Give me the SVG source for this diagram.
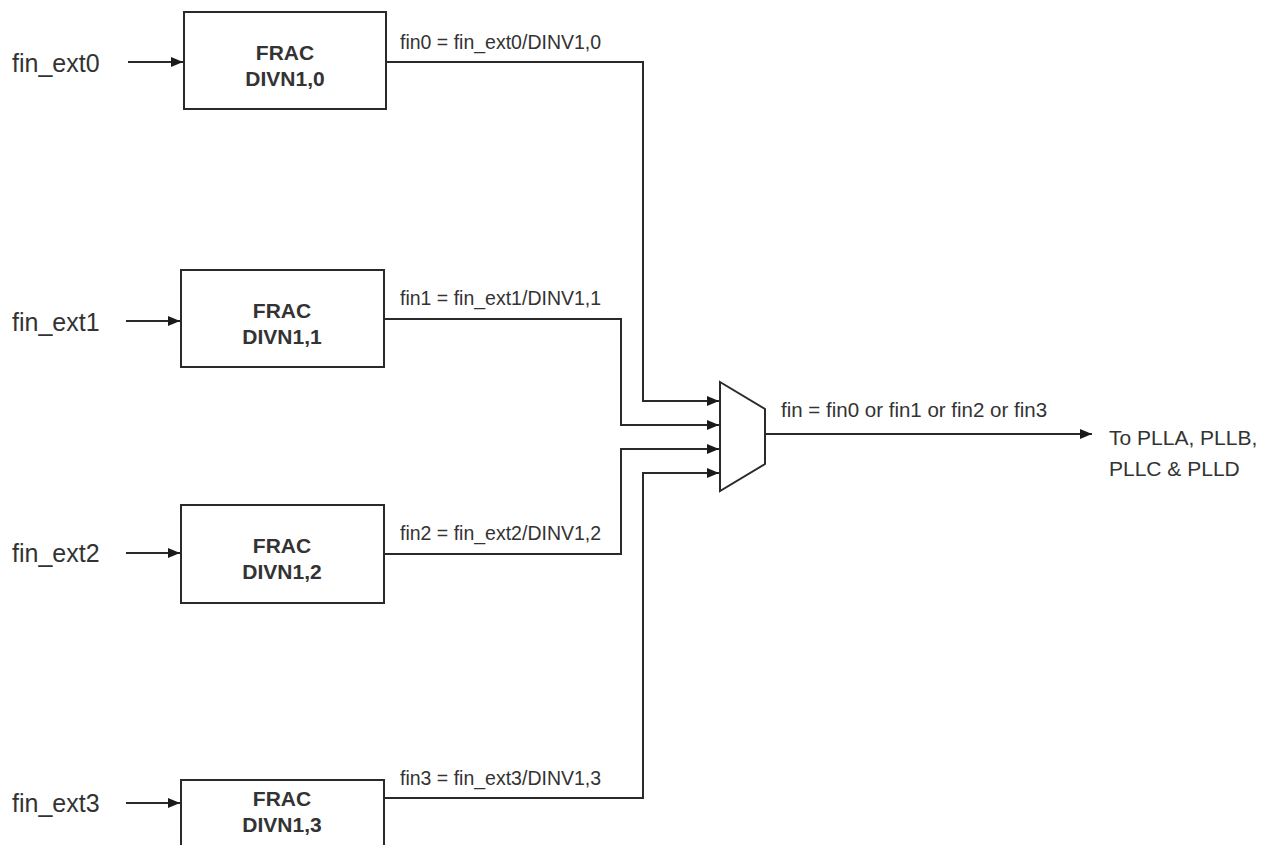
<svg xmlns="http://www.w3.org/2000/svg" width="1270" height="845" viewBox="0 0 1270 845">
<style>
.box{fill:#fff;stroke:#2a2a2a;stroke-width:2}
.bt{font-family:"Liberation Sans",Arial,sans-serif;font-size:21px;font-weight:bold;fill:#333;text-anchor:middle}
.in{font-family:"Liberation Sans",Arial,sans-serif;font-size:25px;fill:#333}
.lb{font-family:"Liberation Sans",Arial,sans-serif;font-size:19.5px;fill:#333}
.ol{font-family:"Liberation Sans",Arial,sans-serif;font-size:21px;fill:#333}
.w{fill:none;stroke:#2a2a2a;stroke-width:2}
</style>
<defs>
<marker id="ah" markerWidth="12" markerHeight="10" refX="12" refY="5" orient="auto" markerUnits="userSpaceOnUse">
<path d="M0,0 L12,5 L0,10 z" fill="#1a1a1a"/>
</marker>
</defs>
<rect width="1270" height="845" fill="#fff"/>
<g id="inputs">
<text class="in" x="12" y="72">fin_ext0</text>
<text class="in" x="12" y="331">fin_ext1</text>
<text class="in" x="12" y="562">fin_ext2</text>
<text class="in" x="12" y="812">fin_ext3</text>
</g>
<g id="div0"><rect class="box" x="184" y="12" width="202" height="97"/><text class="bt" x="285" y="60">FRAC</text><text class="bt" x="285" y="86">DIVN1,0</text></g>
<g id="div1"><rect class="box" x="181" y="270" width="203" height="97"/><text class="bt" x="282" y="318">FRAC</text><text class="bt" x="282" y="344">DIVN1,1</text></g>
<g id="div2"><rect class="box" x="181" y="505" width="203" height="98"/><text class="bt" x="282" y="553">FRAC</text><text class="bt" x="282" y="579">DIVN1,2</text></g>
<g id="div3"><rect class="box" x="181" y="780" width="203" height="80"/><text class="bt" x="282" y="806">FRAC</text><text class="bt" x="282" y="832">DIVN1,3</text></g>
<g id="mux"><path class="box" d="M720,382 L765,409 L765,464 L720,491 Z"/></g>
<g id="connectors">
<line class="w" x1="128" y1="62" x2="183" y2="62" marker-end="url(#ah)"/>
<line class="w" x1="126" y1="321" x2="180" y2="321" marker-end="url(#ah)"/>
<line class="w" x1="126" y1="553" x2="180" y2="553" marker-end="url(#ah)"/>
<line class="w" x1="126" y1="803" x2="180" y2="803" marker-end="url(#ah)"/>
<polyline class="w" points="386,62 643,62 643,401 719,401" marker-end="url(#ah)"/>
<polyline class="w" points="384,319 621,319 621,425 719,425" marker-end="url(#ah)"/>
<polyline class="w" points="384,554 621,554 621,449 719,449" marker-end="url(#ah)"/>
<polyline class="w" points="384,798 643,798 643,473 719,473" marker-end="url(#ah)"/>
<line class="w" x1="765" y1="434" x2="1092" y2="434" marker-end="url(#ah)"/>
</g>
<g id="labels">
<text class="lb" x="400" y="49">fin0 = fin_ext0/DINV1,0</text>
<text class="lb" x="400" y="305">fin1 = fin_ext1/DINV1,1</text>
<text class="lb" x="400" y="540">fin2 = fin_ext2/DINV1,2</text>
<text class="lb" x="400" y="785">fin3 = fin_ext3/DINV1,3</text>
<text class="lb" x="781" y="417" style="font-size:20.5px">fin = fin0 or fin1 or fin2 or fin3</text>
<text class="ol" x="1109" y="445">To PLLA, PLLB,</text>
<text class="ol" x="1109" y="476">PLLC &amp; PLLD</text>
</g>
</svg>
